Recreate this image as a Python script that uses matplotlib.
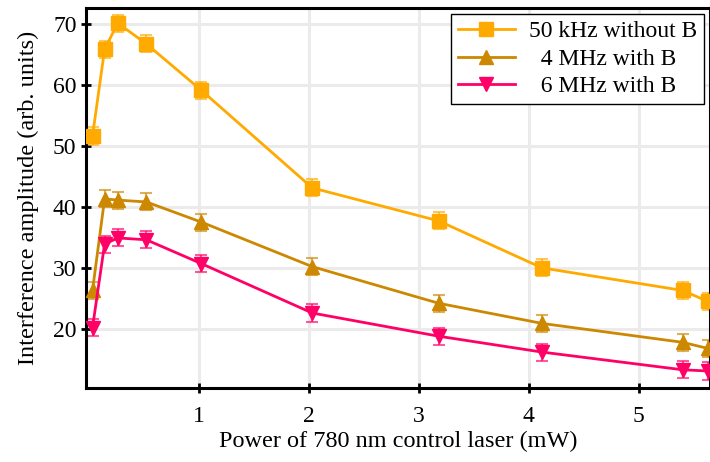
import matplotlib
matplotlib.use("Agg")
import matplotlib.pyplot as plt

power = [0.03, 0.14, 0.26, 0.52, 1.02, 2.03, 3.18, 4.12, 5.40, 5.63]
amp_50k = [51.6, 65.8, 70.1, 66.7, 59.1, 43.1, 37.7, 30.0, 26.3, 24.5]
amp_4M = [26.3, 41.3, 41.1, 40.8, 37.5, 30.2, 24.2, 20.9, 17.8, 16.8]
amp_6M = [20.2, 33.9, 34.9, 34.6, 30.7, 22.6, 18.8, 16.2, 13.3, 13.1]
err_50k = [1.4, 1.4, 1.4, 1.4, 1.4, 1.4, 1.4, 1.4, 1.4, 1.4]
err_4M = [1.4, 1.4, 1.4, 1.4, 1.4, 1.4, 1.4, 1.4, 1.4, 1.4]
err_6M = [1.4, 1.4, 1.4, 1.4, 1.4, 1.4, 1.4, 1.4, 1.4, 1.4]
labels = ["50 kHz without B", "  4 MHz with B", "  6 MHz with B"]
xticks = [1, 2, 3, 4, 5]
yticks = [20, 30, 40, 50, 60, 70]

plt.rcParams['font.family'] = ['Liberation Serif', 'DejaVu Serif']
fig = plt.figure(figsize=(7.10, 4.62), dpi=100)
ax = fig.add_axes([0.121, 0.160, 0.879, 0.823])

series = [
    (amp_50k, err_50k, '#FFAA00', 's', 9.5),
    (amp_4M, err_4M, '#CC8800', '^', 10),
    (amp_6M, err_6M, '#FF0066', 'v', 10),
]
for (y, e, c, m, ms), lab in zip(series, labels):
    ax.errorbar(power, y, yerr=e, fmt='none', ecolor=c, alpha=0.65,
                elinewidth=1.5, capsize=4, capthick=1.5, zorder=2)
    ax.plot(power, y, color=c, marker=m, markersize=ms, linewidth=2.0,
            label=lab, zorder=3, clip_on=True)

ax.set_xlim(-0.03, 5.65)
ax.set_ylim(10.3, 72.6)
ax.set_xticks(xticks)
ax.set_yticks(yticks)
ax.grid(True, color='#ebebeb', linewidth=2.2, zorder=0)
ax.set_axisbelow(True)
for s in ax.spines.values():
    s.set_linewidth(2.2)
    s.set_color('black')
ax.tick_params(direction='inout', length=7.5, width=2, labelsize=17, pad=3)
ax.tick_params(axis='x', pad=9)
ax.set_xlabel('Power of 780 nm control laser (mW)', fontsize=17.5, labelpad=3)
ax.set_ylabel('Interference amplitude (arb. units)', fontsize=17.5, labelpad=10)

leg = ax.legend(loc='upper right', fontsize=17, frameon=True, fancybox=False,
                edgecolor='black', framealpha=1, borderpad=0.3,
                handlelength=2.4, handletextpad=0.6, labelspacing=0.25,
                borderaxespad=0.25)
leg.get_frame().set_linewidth(1.0)

fig.savefig('out.png', dpi=100)
